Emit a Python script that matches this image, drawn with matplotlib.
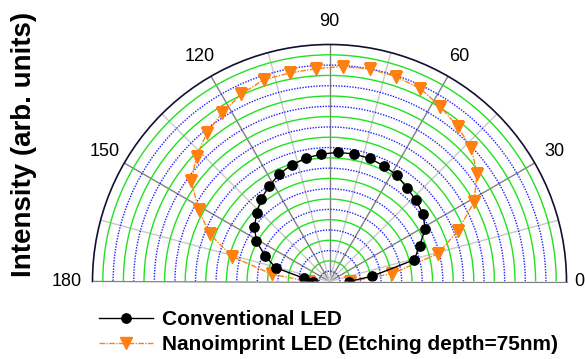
import numpy as np
import matplotlib.pyplot as plt

plt.rcParams['font.family'] = ['Liberation Sans', 'DejaVu Sans']

# angles in degrees (every 7.2 deg)
angle = [0, 7.2, 14.4, 21.6, 28.8, 36, 43.2, 50.4, 57.6, 64.8, 72, 79.2, 86.4,
         93.6, 100.8, 108, 115.2, 122.4, 129.6, 136.8, 144, 151.2, 158.4, 165.6, 172.8, 180]

conventional = [1.9, 4.2, 8.5, 9.4, 10.6, 11.2, 11.5, 11.8, 12.2, 12.4, 12.57, 12.6, 12.56,
                12.38, 12.2, 11.9, 11.5, 10.95, 10.4, 9.7, 9.0, 8.1, 6.7, 5.4, 2.5, 1.6]

nanoimprint = [2.0, 6.1, 10.9, 13.4, 16.0, 17.7, 18.9, 19.5, 20.1, 20.7, 20.9, 21.0, 20.9,
               20.7, 20.6, 20.6, 20.1, 19.4, 18.7, 17.7, 16.6, 14.5, 12.5, 9.74, 5.65, 2.0]

theta_major = [0, 30, 60, 90, 120, 150, 180]
theta_minor = [15, 45, 75, 105, 135, 165]
rmax = 23

fig = plt.figure(figsize=(5.85, 3.59), dpi=100)
# square box: the half disc is fitted into it and centred vertically
ax = fig.add_axes([92.5/585, -41/359, 474/585, 474/359], projection='polar')
ax.set_thetamin(0)
ax.set_thetamax(180)
ax.set_rlim(0, rmax)

th = np.deg2rad(angle)
ax.plot(th, conventional, color='black', lw=1, marker='o', ms=6.7,
        label='Conventional LED', zorder=5)
ax.plot(th, nanoimprint, color='#ff8010', lw=1, ls=(0, (4, 1, 1, 1)), marker='v', ms=8.5,
        mec='#ff8010', label='Nanoimprint LED (Etching depth=75nm)', zorder=4)

# radial grid: green solid (major), blue dotted (minor)
ax.set_yticks(np.arange(2, rmax, 2))
ax.set_yticks(np.arange(1, rmax, 2), minor=True)
ax.set_yticklabels([])
ax.yaxis.grid(True, which='major', color='#22e022', lw=1, ls='-')
ax.yaxis.grid(True, which='minor', color='#2020ff', lw=1, ls=(0, (1, 1)))

# angular grid
ax.set_xticks(np.deg2rad(theta_major))
ax.set_xticklabels([])
ax.set_xticks(np.deg2rad(theta_minor), minor=True)
ax.xaxis.grid(True, which='major', color='#808080', lw=1)
ax.xaxis.grid(True, which='minor', color='#c8c8c8', lw=1)
ax.tick_params(axis='x', which='both', direction='in', length=6, color='#202040')
ax.set_axisbelow(True)

# angle labels round the rim
for t in theta_major:
    if t == 0:
        ax.text(0, rmax * 245 / 237, '0', ha='left', va='center', fontsize=13, clip_on=False)
    elif t == 180:
        ax.text(np.pi, rmax * 247.5 / 237, '180', ha='right', va='center', fontsize=13, clip_on=False)
    else:
        ax.text(np.deg2rad(t), rmax * 260 / 237, str(t), ha='center', va='center',
                fontsize=13, clip_on=False)

ax.spines['polar'].set_color('#101030')
ax.spines['polar'].set_linewidth(1.2)
ax.spines['start'].set_color('#808080')
ax.spines['end'].set_color('#808080')

fig.text(24/585, 1 - 144/359, 'Intensity (arb. units)', rotation=90, ha='center', va='center',
         fontsize=20, fontweight='bold')

fig.legend(loc='center left', bbox_to_anchor=(99/585, 27/359), frameon=False,
           prop={'size': 15, 'weight': 'bold'}, handlelength=2.6, handletextpad=0.4,
           labelspacing=0.3, borderpad=0, borderaxespad=0)

fig.savefig('out.png', dpi=100)
